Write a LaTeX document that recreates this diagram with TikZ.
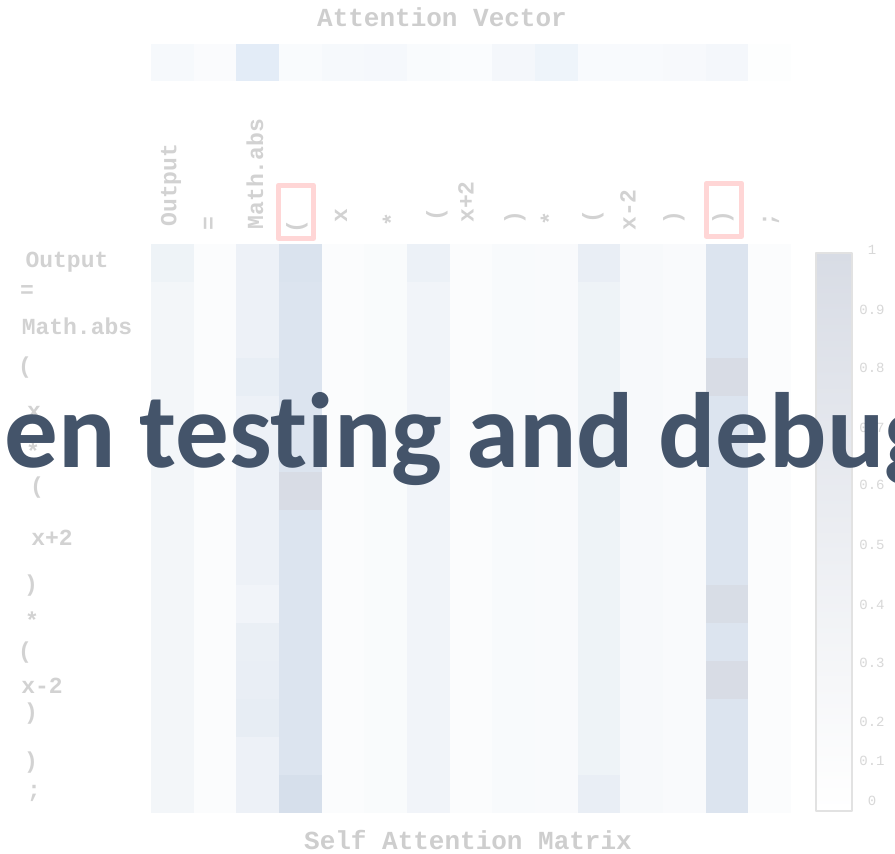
\documentclass[tikz,border=0pt]{standalone}
\usepackage{fontspec}
\setmainfont{Carlito}[Ligatures=NoCommon]
\setmonofont{Liberation Mono}
\begin{document}
\begin{tikzpicture}[
    x=1pt, y=-1pt,
    every node/.style={inner sep=0pt},
    rowlabel/.style={font=\ttfamily\bfseries\fontsize{23}{23}\selectfont, text=labelgray},
    collabel/.style={rowlabel, rotate=90},
    axistitle/.style={font=\ttfamily\bfseries\fontsize{26}{26}\selectfont, text=titlegray},
    ticklabel/.style={font=\ttfamily\fontsize{14}{14}\selectfont, text=tickgray},
    line join=round
]

% Colors
\definecolor{labelgray}{RGB}{210,210,210}
\definecolor{titlegray}{RGB}{206,206,206}
\definecolor{tickgray}{RGB}{216,216,216}
\definecolor{attnblue}{RGB}{218,227,238}
\definecolor{attndeep}{RGB}{214,223,235}
\definecolor{attngray}{RGB}{216,220,229}
\definecolor{vecblue}{RGB}{222,233,245}
\definecolor{barblue}{RGB}{228,236,246}
\definecolor{barframe}{RGB}{226,226,226}
\definecolor{boxpink}{RGB}{255,214,214}
\definecolor{captionslate}{RGB}{68,84,106}

\useasboundingbox (0,0) rectangle (895,854);
\fill[white] (0,0) rectangle (895,854);

% ----------------------------------------------------
% cell helpers: column c, row r
% ----------------------------------------------------
\newcommand{\attcol}[2]{%
\fill[attnblue!#2!white] ({151+42.67*(#1-1)},244) rectangle ++(42.67,569);
}
\newcommand{\attcell}[3]{%
\fill[#3] ({151+42.67*(#1-1)},{244+37.93*(#2-1)}) rectangle ++(42.67,37.93);
}
\newcommand{\attvec}[2]{%
\fill[vecblue!#2!white] ({151+42.67*(#1-1)},44) rectangle ++(42.67,37);
}

% ----------------------------------------------------
% Attention vector
% ----------------------------------------------------
\attvec{1}{27}
\attvec{2}{16}
\attvec{3}{85}
\attvec{4}{18}
\attvec{5}{27}
\attvec{6}{30}
\attvec{7}{18}
\attvec{8}{14}
\attvec{9}{35}
\attvec{10}{50}
\attvec{11}{22}
\attvec{12}{22}
\attvec{13}{25}
\attvec{14}{35}
\attvec{15}{5}

% ----------------------------------------------------
% Self attention matrix, columns first
% ----------------------------------------------------
\attcol{1}{33}
\attcol{2}{12}
\attcol{3}{48}
\attcol{4}{95}
\attcol{5}{10}
\attcol{6}{15}
\attcol{7}{38}
\attcol{8}{12}
\attcol{9}{18}
\attcol{10}{16}
\attcol{11}{45}
\attcol{12}{22}
\attcol{13}{16}
\attcol{14}{95}
\attcol{15}{10}

% single cells that stand out
\attcell{1}{1}{attnblue!45!white}
\attcell{3}{4}{attnblue!62!white}
\attcell{3}{10}{attnblue!38!white}
\attcell{3}{11}{attnblue!58!white}
\attcell{3}{12}{attnblue!60!white}
\attcell{3}{13}{attnblue!66!white}
\attcell{4}{1}{attnblue}
\attcell{4}{7}{attngray}
\attcell{4}{15}{attndeep}
\attcell{7}{1}{attnblue!50!white}
\attcell{11}{1}{attnblue!60!white}
\attcell{11}{15}{attnblue!60!white}
\attcell{14}{4}{attngray}
\attcell{14}{10}{attngray!85!attnblue}
\attcell{14}{12}{attngray}

% ----------------------------------------------------
% Highlight boxes round the brackets
% ----------------------------------------------------
\draw[boxpink, line width=4.5pt] (278.3,185.3) rectangle (313.7,238.7);
\draw[boxpink, line width=4.5pt] (706.3,183.3) rectangle (741.7,236.7);

% ----------------------------------------------------
% Token labels
% ----------------------------------------------------
\node[collabel] (colOutput) at (171,185) {Output};
\node[collabel] (colEq)     at (210,224) {=};
\node[collabel] (colAbs)    at (255,174) {Math.abs};
\node[collabel] (colOpenA)  at (297,227) {(};
\node[collabel] (colX)      at (341,216) {x};
\node[collabel] (colStarA)  at (391,220) {*};
\node[collabel] (colOpenB)  at (437,215) {(};
\node[collabel] (colXplus)  at (466,202) {x+2};
\node[collabel] (colCloseA) at (515,218) {)};
\node[collabel] (colStarB)  at (549,219) {*};
\node[collabel] (colOpenC)  at (593,217) {(};
\node[collabel] (colXminus) at (628,210) {x-2};
\node[collabel] (colCloseB) at (674,218) {)};
\node[collabel] (colCloseC) at (723,218) {)};
\node[collabel] (colSemi)   at (771,220) {;};

\node[rowlabel] (rowOutput) at (67,262)  {Output};
\node[rowlabel] (rowEq)     at (27,292)  {=};
\node[rowlabel] (rowAbs)    at (77,326)  {Math.abs};
\node[rowlabel] (rowOpenA)  at (25,368)  {(};
\node[rowlabel] (rowX)      at (34,412)  {x};
\node[rowlabel] (rowStarA)  at (33,451)  {*};
\node[rowlabel] (rowOpenB)  at (37,488)  {(};
\node[rowlabel] (rowXplus)  at (52,538)  {x+2};
\node[rowlabel] (rowCloseA) at (31,586)  {)};
\node[rowlabel] (rowStarB)  at (32,620)  {*};
\node[rowlabel] (rowOpenC)  at (25,653)  {(};
\node[rowlabel] (rowXminus) at (42,686)  {x-2};
\node[rowlabel] (rowCloseB) at (31,714)  {)};
\node[rowlabel] (rowCloseC) at (31,763)  {)};
\node[rowlabel] (rowSemi)   at (34,793)  {;};

\node[axistitle] (vectitle) at (442,17)  {Attention Vector};
\node[axistitle] (mattitle) at (468,840) {Self Attention Matrix};

% ----------------------------------------------------
% Colour bar
% ----------------------------------------------------
\shade[top color=attngray, middle color=barblue, bottom color=white]
(816,253) rectangle (852,811);
\draw[barframe, line width=1.5pt] (816,253) rectangle (852,811);

\node[ticklabel] (tick10) at (872,250) {1};
\node[ticklabel] (tick09) at (872,310) {0.9};
\node[ticklabel] (tick08) at (872,368) {0.8};
\node[ticklabel] (tick07) at (872,428) {0.7};
\node[ticklabel] (tick06) at (872,485) {0.6};
\node[ticklabel] (tick05) at (872,545) {0.5};
\node[ticklabel] (tick04) at (872,605) {0.4};
\node[ticklabel] (tick03) at (872,663) {0.3};
\node[ticklabel] (tick02) at (872,722) {0.2};
\node[ticklabel] (tick01) at (872,761) {0.1};
\node[ticklabel] (tick00) at (872,801) {0};

% ----------------------------------------------------
% Caption across the middle
% ----------------------------------------------------
\begin{scope}
\clip (0,0) rectangle (895,854);
\node[font=\bfseries\fontsize{107}{107}\selectfont, text=captionslate, anchor=base west]
(caption) at (4,467) {en testing and debug};
\end{scope}

\end{tikzpicture}
\end{document}
